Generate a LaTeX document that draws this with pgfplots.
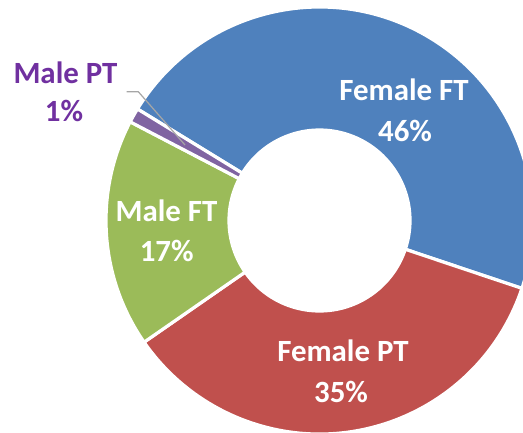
\documentclass[border=0pt]{standalone}
\usepackage{pgfplots}
\pgfplotsset{compat=1.18}
\usepackage{pgfplotstable}
\usepackage{fontspec}
\setmainfont{Carlito}

\definecolor{cFFT}{HTML}{4F81BD}
\definecolor{cFPT}{HTML}{C0504D}
\definecolor{cMFT}{HTML}{9BBB59}
\definecolor{cMPT}{HTML}{8064A2}
\definecolor{cMPTtext}{HTML}{7030A0}
\definecolor{cLeader}{HTML}{A6A6A6}

\pgfplotstableread[col sep=comma,row sep=\\]{
label,value\\
Female FT,46.4\\
Female PT,35.2\\
Male FT,17.3\\
Male PT,1.1\\
}\piedata

\pgfplotstablegetelem{0}{value}\of\piedata \pgfmathsetmacro\vA{\pgfplotsretval}
\pgfplotstablegetelem{1}{value}\of\piedata \pgfmathsetmacro\vB{\pgfplotsretval}
\pgfplotstablegetelem{2}{value}\of\piedata \pgfmathsetmacro\vC{\pgfplotsretval}
\pgfplotstablegetelem{3}{value}\of\piedata \pgfmathsetmacro\vD{\pgfplotsretval}
\pgfmathsetmacro\vSum{\vA+\vB+\vC+\vD}
\pgfmathsetmacro\aZ{148.5}
\pgfmathsetmacro\aA{\aZ-\vA/\vSum*360}
\pgfmathsetmacro\aB{\aA-\vB/\vSum*360}
\pgfmathsetmacro\aC{\aB-\vC/\vSum*360}
\pgfmathsetmacro\aD{\aC-\vD/\vSum*360}

\def\cx{319.5}
\def\cy{211.5}
\def\Ro{213.5bp}
\def\Ri{90.5bp}
\newcommand\donutwedge[3]{%
  \fill[#1,draw=white,line width=3.2bp] (axis cs:\cx,\cy) ++(#2:\Ro)
    arc[start angle=#2,end angle=#3,radius=\Ro]
    -- ([shift={(#3:\Ri)}]axis cs:\cx,\cy)
    arc[start angle=#3,end angle=#2,radius=\Ri] -- cycle;}
\newcommand\LabelFont{\bfseries\fontsize{31}{37}\selectfont}

\begin{document}
\begin{tikzpicture}
\begin{axis}[
  x=1bp, y=1bp,
  xmin=0, xmax=523, ymin=0, ymax=432,
  hide axis,
  clip=true,
]
\donutwedge{cFFT}{\aZ}{\aA}
\donutwedge{cFPT}{\aA}{\aB}
\donutwedge{cMFT}{\aB}{\aC}
\donutwedge{cMPT}{\aC}{\aD}

\addplot[cLeader, line width=1.2bp, mark=none] coordinates {(126.7,340.3) (138.3,340.3) (185,287)};

\node[anchor=base, font=\LabelFont, text=white] at (axis cs:404,332) {Female FT};
\node[anchor=base, font=\LabelFont, text=white] at (axis cs:405,291) {46\%};
\node[anchor=base, font=\LabelFont, text=white] at (axis cs:343,70.3) {Female PT};
\node[anchor=base, font=\LabelFont, text=white] at (axis cs:341,29.3) {35\%};
\node[anchor=base, font=\LabelFont, text=white] at (axis cs:166.5,210.3) {Male FT};
\node[anchor=base, font=\LabelFont, text=white] at (axis cs:166.7,170.3) {17\%};
\node[anchor=base, font=\LabelFont, text=cMPTtext] at (axis cs:65.5,348.7) {Male PT};
\node[anchor=base, font=\LabelFont, text=cMPTtext] at (axis cs:64,310.3) {1\%};
\end{axis}
\pgfresetboundingbox
\path[use as bounding box] (current axis.south west) rectangle (current axis.north east);
\end{tikzpicture}
\end{document}
